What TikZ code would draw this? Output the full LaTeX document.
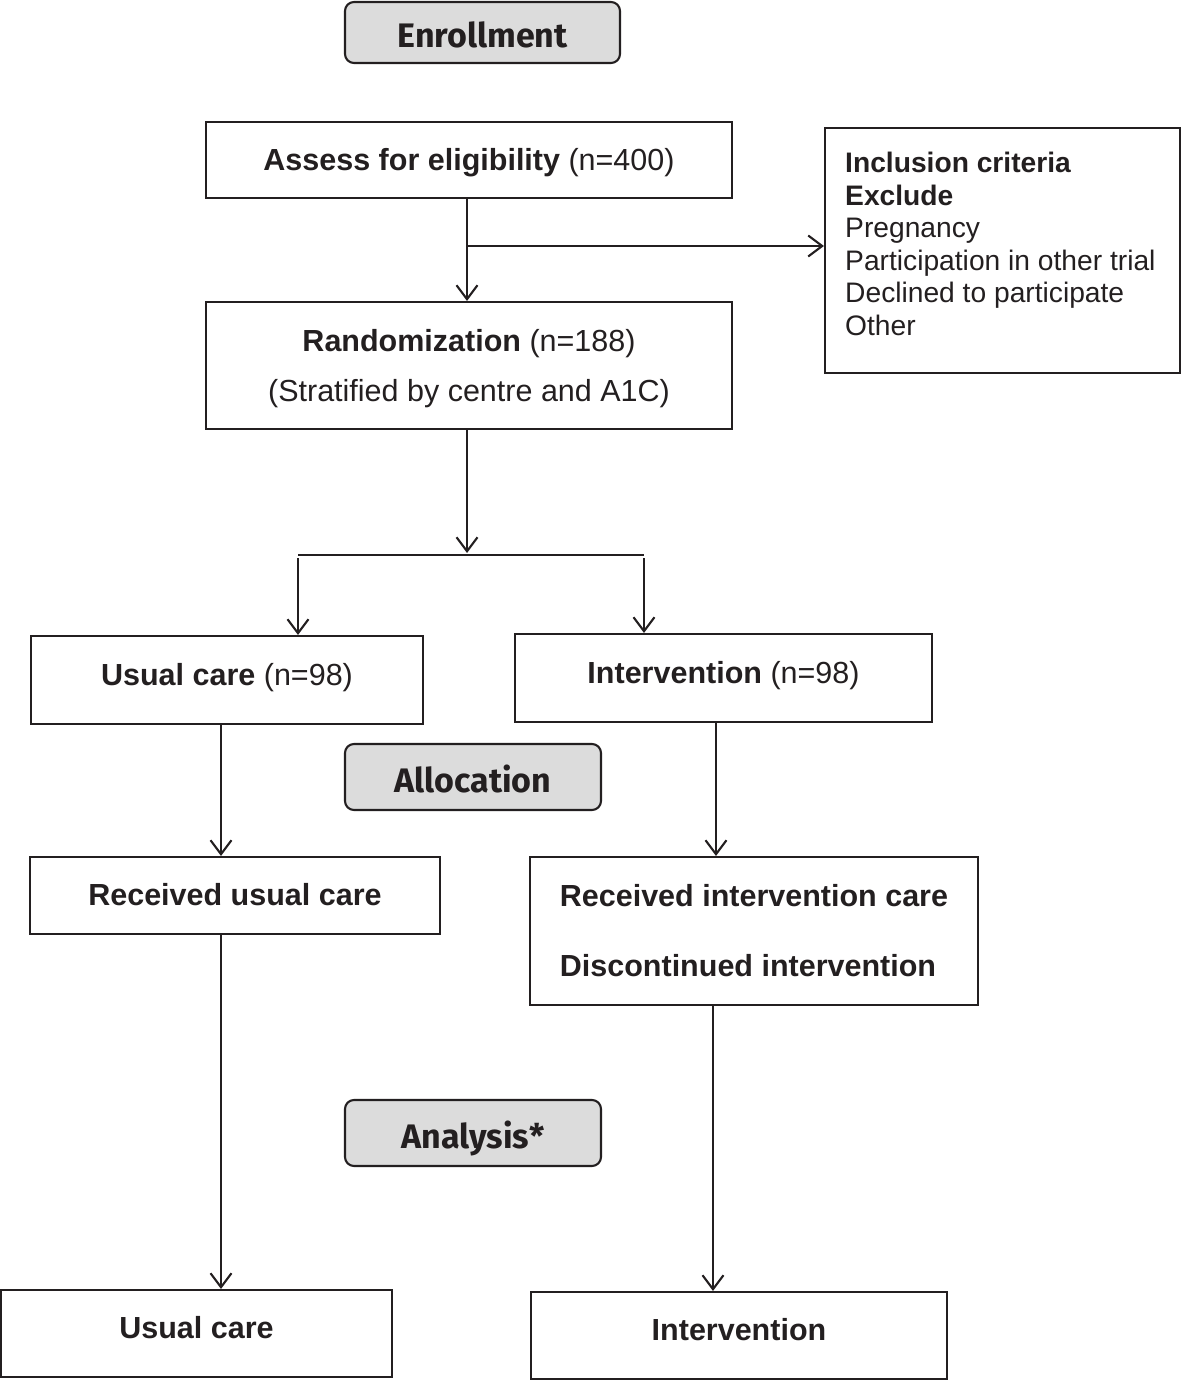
\documentclass[tikz,border=0pt]{standalone}
\usepackage{fontspec}
\setmainfont{Liberation Sans}
\newfontfamily\hdrfont{Fira Sans}
\usetikzlibrary{arrows.meta}
\definecolor{ink}{HTML}{231F20}
\definecolor{hdrgray}{HTML}{DCDCDC}
\tikzset{
  box/.style={draw=ink, line width=2.1pt, inner sep=0pt, anchor=center, text=ink,
    font=\fontsize{30.5}{36}\selectfont},
  onel/.style={text height=21pt, text depth=#1},
  hdr/.style={draw=ink, line width=2.1pt, fill=hdrgray, rounded corners=9pt, inner sep=0pt,
    anchor=center, text=ink, font=\hdrfont\bfseries\fontsize{34}{40}\selectfont,
    text height=30pt, text depth=0pt},
  conn/.style={draw=ink, line width=2.1pt},
  arr/.style={conn, -{Straight Barb[length=14pt,width=21pt,line width=2.1pt]}}
}
\begin{document}
\begin{tikzpicture}[x=1pt,y=-1pt]
\useasboundingbox (0,0) rectangle (1181,1381);
% header boxes
\node[hdr, minimum width=275pt, minimum height=61pt] (enr) at (482.5,32.5) {Enrollment};
\node[hdr, minimum width=256pt, minimum height=66pt] (alloc) at (473,777) {Allocation};
\node[hdr, minimum width=256pt, minimum height=66pt] (anal) at (473,1133) {Analysis*};
% main boxes
\node[box, onel=0pt, minimum width=526pt, minimum height=76pt] (assess) at (469,160)
  {\textbf{Assess for eligibility} (n=400)};
\node[box, minimum width=355pt, minimum height=245pt] (excl) at (1002.5,250.5) {};
\node[text=ink, inner sep=0pt, align=left, anchor=west,
  font=\fontsize{28.2}{32.5}\selectfont] (excltxt) at (845,244)
  {\textbf{Inclusion criteria}\\\textbf{Exclude}\\Pregnancy\\Participation in other trial\\Declined to participate\\Other};
\node[box, minimum width=526pt, minimum height=127pt, align=center] (rand) at (469,365.5)
  {\rule{0pt}{28.2pt}\textbf{Randomization} (n=188)\\[14pt](Stratified by centre and A1C)};
\node[box, onel=10pt, minimum width=392pt, minimum height=88pt] (usual) at (227,680)
  {\textbf{Usual care} (n=98)};
\node[box, onel=10pt, minimum width=417pt, minimum height=88pt] (interv) at (723.5,678)
  {\textbf{Intervention} (n=98)};
\node[box, onel=1pt, minimum width=410pt, minimum height=77pt] (rusual) at (235,895.5)
  {\textbf{Received usual care}};
\node[box, minimum width=448pt, minimum height=148pt, align=left] (rinterv) at (754,931)
  {\textbf{Received intervention care}\\[34pt]\textbf{Discontinued intervention}};
\node[box, onel=11pt, minimum width=391pt, minimum height=87pt] (fusual) at (196.5,1333.5)
  {\textbf{Usual care}};
\node[box, onel=11pt, minimum width=416pt, minimum height=87pt] (finterv) at (739,1335.5)
  {\textbf{Intervention}};
% helper coordinates
\coordinate (b1) at (467,246);
\coordinate (split) at (467,553);
\coordinate (sl) at (298,555);
\coordinate (sr) at (644,555);
\coordinate (sl2) at (298,558);
\coordinate (sr2) at (644,558);
\coordinate (cu) at (221,0);
\coordinate (ci) at (716,0);
\coordinate (ci2) at (713,0);
% connectors
\draw[arr] (assess.south -| b1) -- (rand.north -| b1);
\draw[arr] (b1) -- (excl.west |- b1);
\draw[arr] (rand.south -| split) -- (split);
\draw[conn] (sl) -- (sr);
\draw[arr] (sl2) -- (usual.north -| sl2);
\draw[arr] (sr2) -- (interv.north -| sr2);
\draw[arr] (usual.south -| cu) -- (rusual.north -| cu);
\draw[arr] (interv.south -| ci) -- (rinterv.north -| ci);
\draw[arr] (rusual.south -| cu) -- (fusual.north -| cu);
\draw[arr] (rinterv.south -| ci2) -- (finterv.north -| ci2);
\end{tikzpicture}
\end{document}
